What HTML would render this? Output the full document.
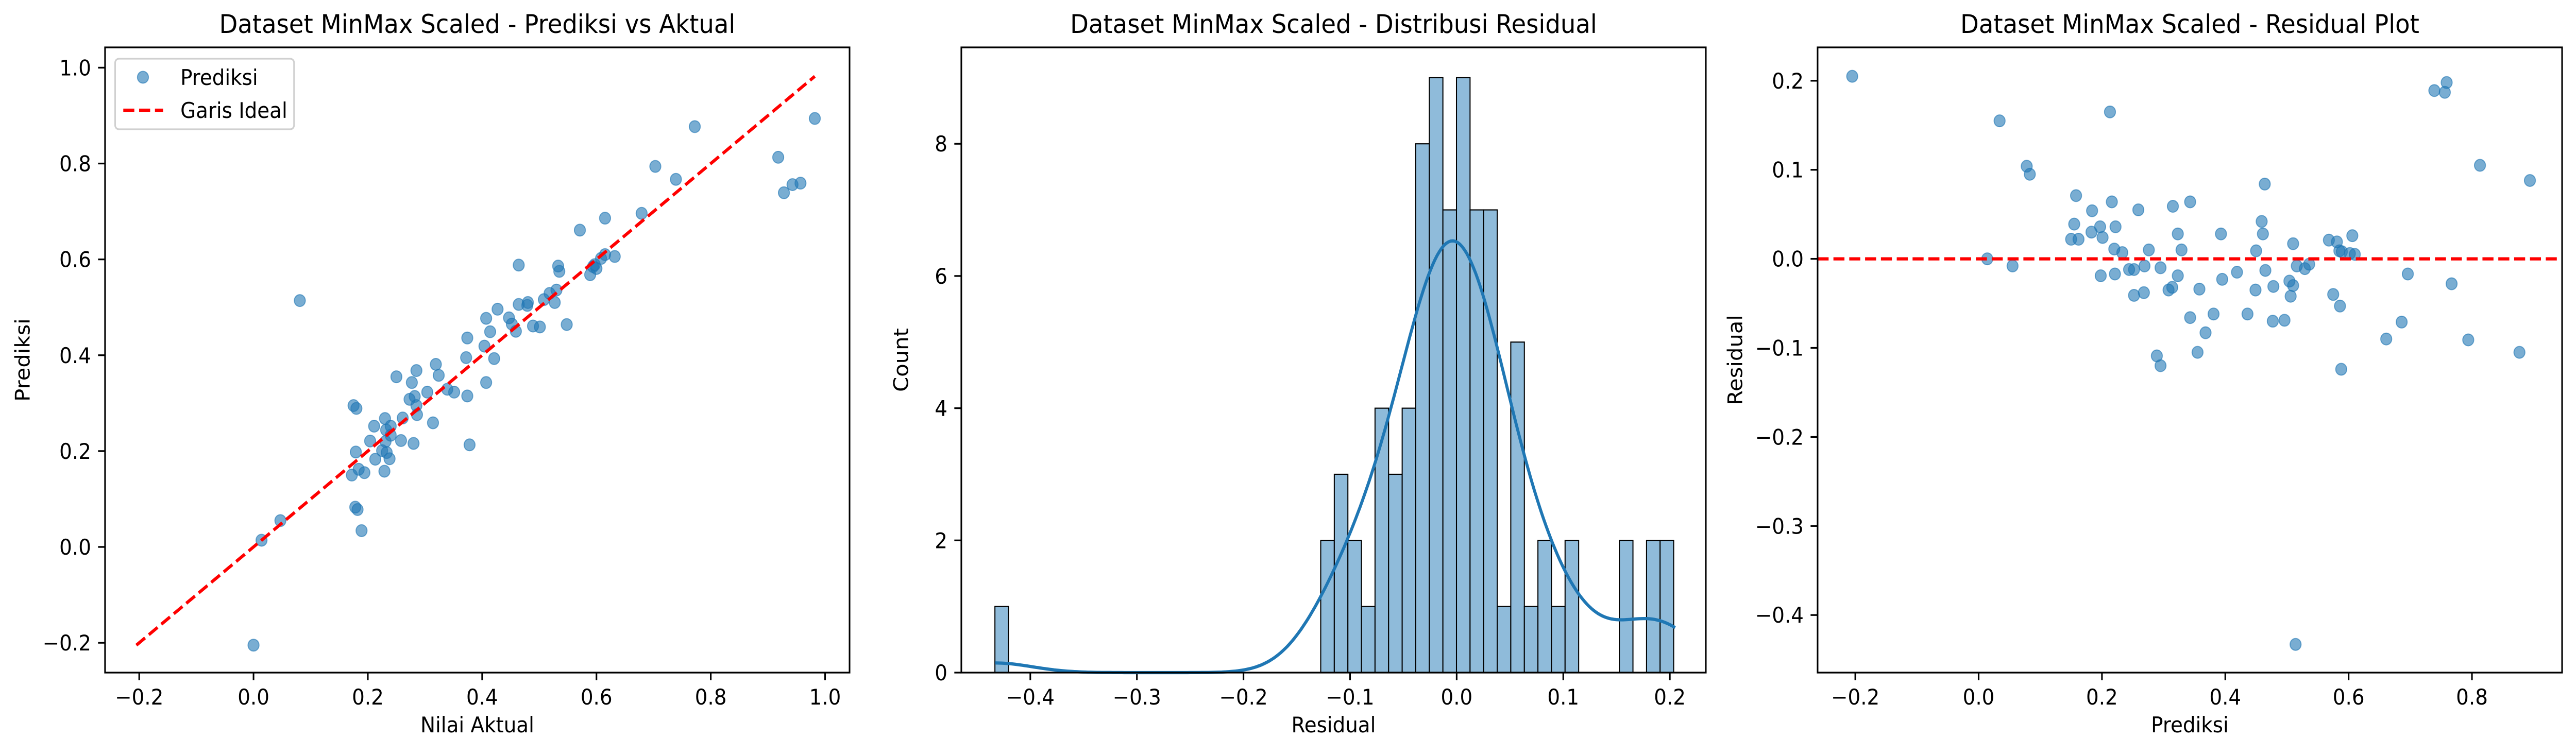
<!DOCTYPE html>
<html><head><meta charset="utf-8">
<style>
html,body{margin:0;padding:0;background:#fff;width:100%;height:100%;overflow:hidden;}
svg{display:block;width:100vw;height:100vh;}
text{font-family:"DejaVu Sans","Liberation Sans",sans-serif;fill:#000;}
</style></head>
<body>
<svg id="fig" viewBox="0 0 5370 1466" preserveAspectRatio="none" xmlns="http://www.w3.org/2000/svg">
<rect x="0" y="0" width="5370" height="1466" fill="#fff"/>
</svg>
<script>
// ---- data ----
const predicted = [-0.205,0.034,0.213,0.078,0.083,0.014,0.055,0.158,0.184,0.216,0.259,0.315,0.343,0.155,0.197,0.222,0.150,0.162,0.183,0.201,0.220,0.233,0.276,0.323,0.329,0.198,0.221,0.244,0.252,0.269,0.295,0.323,0.252,0.268,0.308,0.314,0.358,0.343,0.381,0.368,0.355,0.289,0.295,0.393,0.395,0.419,0.436,0.450,0.459,0.461,0.464,0.465,0.449,0.478,0.477,0.496,0.504,0.510,0.506,0.510,0.516,0.529,0.536,0.514,0.568,0.581,0.585,0.589,0.602,0.610,0.606,0.575,0.586,0.588,0.661,0.686,0.696,0.767,0.739,0.756,0.759,0.813,0.794,0.877,0.894];
const residuals = [0.205,0.155,0.165,0.104,0.095,0.000,-0.008,0.071,0.054,0.064,0.055,0.059,0.064,0.039,0.036,0.036,0.022,0.022,0.030,0.024,0.011,0.007,0.010,0.028,0.010,-0.019,-0.017,-0.012,-0.012,-0.008,-0.010,-0.019,-0.041,-0.038,-0.035,-0.032,-0.034,-0.066,-0.062,-0.083,-0.105,-0.109,-0.120,0.028,-0.023,-0.015,-0.062,0.009,0.042,0.028,0.084,-0.013,-0.035,-0.031,-0.070,-0.069,-0.025,-0.030,-0.042,0.017,-0.008,-0.011,-0.006,-0.433,0.021,0.019,0.009,0.008,0.006,0.005,0.026,-0.040,-0.053,-0.124,-0.090,-0.071,-0.017,-0.028,0.189,0.187,0.198,0.105,-0.091,-0.105,0.088];
const binStart = -0.4332;
const binWidth = 0.012736;
const binCounts = [1,0,0,0,0,0,0,0,0,0,0,0,0,0,0,0,0,0,0,0,0,0,0,0,2,3,2,1,4,3,4,8,9,7,9,7,7,1,5,1,2,1,2,0,0,0,2,0,2,2];
const ticks1X = [-0.2,0,0.2,0.4,0.6,0.8,1.0];
const ticks1Y = [-0.2,0,0.2,0.4,0.6,0.8,1.0];
const ticks2X = [-0.4,-0.3,-0.2,-0.1,0,0.1,0.2];
const ticks2Y = [0,2,4,6,8];
const ticks3X = [-0.2,0,0.2,0.4,0.6,0.8];
const ticks3Y = [-0.4,-0.3,-0.2,-0.1,0,0.1,0.2];

// ---- scales ----
const sx1 = v => 528.5 + v*1191.5, sy1 = v => 1062 - v*930.6;
const sx2 = v => 3036.6 + v*2222, sy2 = c => 1306 - c*128.35;
const sx3 = v => 4124.7 + v*1285.5, sy3 = v => 502.6 - v*1729;
const AX = [{l:219,r:1771},{l:2004,r:3556},{l:3789,r:5341}], TOP=92, BOT=1306;
const svg = document.getElementById('fig');
const NS = 'http://www.w3.org/2000/svg';
const FS = 41.7;
function mk(tag, attrs, parent){const e=document.createElementNS(NS,tag);for(const k in attrs)e.setAttribute(k,attrs[k]);(parent||svg).appendChild(e);return e;}
function txt(s, attrs, parent){const e=mk('text',attrs,parent);e.textContent=s;return e;}
function fmt(v,d){const s=Math.abs(v).toFixed(d);return (v<-1e-9?'\u2212':'')+s;}

function axes(i, title, xl, yl, xt, yt, sx, sy, dx, dy, ylx){
  const a=AX[i];
  const g=mk('g',{});
  
  
  const t=txt(title,{x:(a.l+a.r)/2,y:64,'font-size':50,'text-anchor':'middle'},g);
  
  
  xt.forEach(v=>{const x=sx(v);
    const tk=mk('line',{x1:x,x2:x,y1:BOT,y2:BOT+14.6,stroke:'#000','stroke-width':3.3},g);
    
    
    const l=txt(fmt(v,dx),{x:x,y:1368,'font-size':FS,'text-anchor':'middle'},g);
    
    });
  yt.forEach(v=>{const y=sy(v);
    const tk=mk('line',{x1:a.l-14.6,x2:a.l,y1:y,y2:y,stroke:'#000','stroke-width':3.3},g);
    
    
    const l=txt(fmt(v,dy),{x:a.l-29,y:y+15,'font-size':FS,'text-anchor':'end'},g);
    
    });
  const xa=txt(xl,{x:(a.l+a.r)/2,y:1422,'font-size':FS,'text-anchor':'middle'},g);
  
  
  const ya=txt(yl,{x:ylx,y:(TOP+BOT)/2,'font-size':FS,'text-anchor':'middle',transform:`rotate(-90 ${ylx} ${(TOP+BOT)/2})`},g);
  
  
  return g;
}
function frame(i){const a=AX[i];
  const r=mk('rect',{x:a.l,y:TOP,width:a.r-a.l,height:BOT-TOP,fill:'none',stroke:'#000','stroke-width':3.3});
  
  }

// ---- panel 1 ----
const actual = predicted.map((p,k)=>p+residuals[k]);
axes(0,'Dataset MinMax Scaled - Prediksi vs Aktual','Nilai Aktual','Prediksi',ticks1X,ticks1Y,sx1,sy1,1,1,62);
actual.forEach((v,k)=>{const c=mk('circle',{cx:sx1(v),cy:sy1(predicted[k]),r:11.5,fill:'#1f77b4','fill-opacity':0.6,stroke:'#1f77b4','stroke-opacity':0.6,'stroke-width':2});
  
  });
const lo=Math.min(...actual,...predicted), hi=Math.max(...actual,...predicted);
const il=mk('line',{x1:sx1(lo),y1:sy1(lo),x2:sx1(hi),y2:sy1(hi),stroke:'#ff0000','stroke-width':6.25,'stroke-dasharray':'23 10'});


frame(0);
const lg=mk('g',{});


mk('rect',{x:240,y:114,width:373,height:137,rx:8,fill:'#fff','fill-opacity':0.8,stroke:'#d0d0d0','stroke-width':3.3},lg);
const lm=mk('circle',{cx:298,cy:150,r:11.5,fill:'#1f77b4','fill-opacity':0.6,stroke:'#1f77b4','stroke-opacity':0.6,'stroke-width':2},lg);


const lt1=txt('Prediksi',{x:376,y:165,'font-size':FS},lg);


const ll=mk('line',{x1:257,x2:340,y1:214,y2:214,stroke:'#ff0000','stroke-width':6.25,'stroke-dasharray':'23 10'},lg);


const lt2=txt('Garis Ideal',{x:376,y:229,'font-size':FS},lg);



// ---- panel 2 ----
axes(1,'Dataset MinMax Scaled - Distribusi Residual','Residual','Count',ticks2X,ticks2Y,sx2,sy2,1,0,1893);
binCounts.forEach((c,k)=>{ if(!c) return;
  const x0=sx2(binStart+k*binWidth), x1=sx2(binStart+(k+1)*binWidth);
  const b=mk('rect',{x:x0,y:sy2(c),width:x1-x0,height:sy2(0)-sy2(c),fill:'rgb(143,187,218)',stroke:'#000','stroke-width':2.2});
  
  });
(function(){
  const n=residuals.length, mean=residuals.reduce((a,b)=>a+b,0)/n;
  const sd=Math.sqrt(residuals.reduce((a,b)=>a+(b-mean)**2,0)/(n-1));
  const bw=sd*Math.pow(n,-0.2);
  const mn=Math.min(...residuals), mx=Math.max(...residuals);
  let d='';
  for(let i=0;i<=300;i++){const x=mn+(mx-mn)*i/300;let s=0;
    residuals.forEach(r=>{s+=Math.exp(-0.5*((x-r)/bw)**2);});
    const dens=s/(n*bw*Math.sqrt(2*Math.PI));
    d+=(i?'L':'M')+sx2(x).toFixed(1)+' '+sy2(dens*n*binWidth).toFixed(1);}
  const p=mk('path',{d:d,fill:'none',stroke:'#1f77b4','stroke-width':6.25});
  
  
})();
frame(1);

// ---- panel 3 ----
axes(2,'Dataset MinMax Scaled - Residual Plot','Prediksi','Residual',ticks3X,ticks3Y,sx3,sy3,1,1,3632);
predicted.forEach((v,k)=>{const c=mk('circle',{cx:sx3(v),cy:sy3(residuals[k]),r:11.5,fill:'#1f77b4','fill-opacity':0.6,stroke:'#1f77b4','stroke-opacity':0.6,'stroke-width':2});
  
  });
const zl=mk('line',{x1:AX[2].l,x2:AX[2].r,y1:sy3(0),y2:sy3(0),stroke:'#ff0000','stroke-width':6.25,'stroke-dasharray':'23 10'});


frame(2);
</script>
</body></html>
